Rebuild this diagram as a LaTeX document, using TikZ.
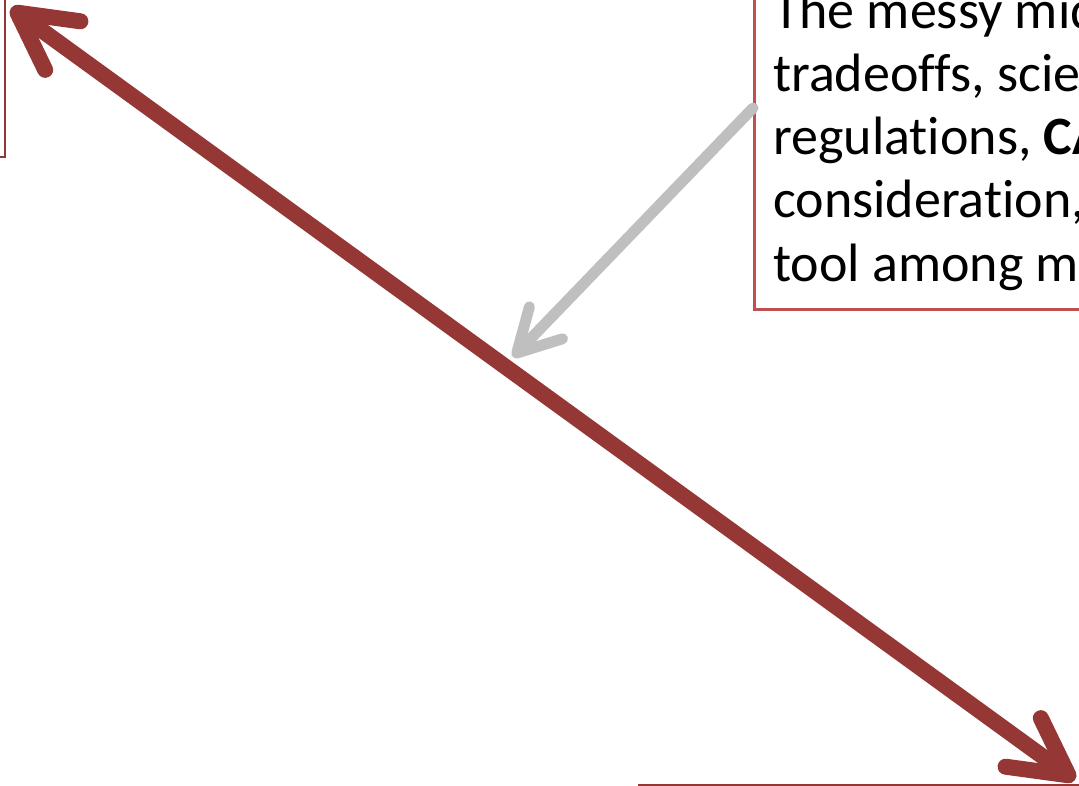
\documentclass[tikz,border=0pt]{standalone}
\usepackage{fontspec}
\setmainfont[Ligatures=NoCommon]{Carlito}
\usetikzlibrary{arrows.meta}
\definecolor{arrowred}{HTML}{953735}
\definecolor{boxred}{HTML}{C0504D}
\definecolor{pointgrey}{HTML}{BFBFBF}
\tikzset{
  bigarrow/.style={draw=arrowred, line width=16pt, line cap=round,
    {Straight Barb[round, length=56pt, width=60pt]}-{Straight Barb[round, length=56pt, width=60pt]}},
  greyarrow/.style={draw=pointgrey, line width=11pt, line cap=round,
    -{Straight Barb[round, length=42pt, width=46pt]}},
  notebox/.style={draw=boxred, line width=3pt, rectangle, inner sep=0pt, anchor=south west},
  edgebox/.style={draw=arrowred, line width=2pt, rectangle, inner sep=0pt},
  notetext/.style={anchor=base west, inner sep=0pt, font=\fontsize{54}{63}\selectfont}
}
\begin{document}
\begin{tikzpicture}[x=1pt,y=-1pt]
\useasboundingbox (0,0) rectangle (1079,786);
\clip (0,0) rectangle (1079,786);
% partial boxes at the edges
\node[edgebox, minimum width=200pt, minimum height=300pt, anchor=south east] (leftbox) at (6,158) {};
\node[edgebox, minimum width=600pt, minimum height=300pt, anchor=north west] (bottombox) at (638,784) {};
% note box
\node[notebox, minimum width=600pt, minimum height=400pt] (note) at (753,311) {};
\node[notetext] (l1) at (773,29) {The messy middle};
\node[notetext] (l2) at (773,92) {tradeoffs, science,};
\node[notetext] (l3) at (773,155) {regulations, \textbf{CAP}};
\node[notetext] (l4) at (773,218) {consideration,};
\node[notetext] (l5) at (773,282) {tool among many};
% arrows
\coordinate (a1) at (11,8);
\coordinate (a2) at (1075,780);
\coordinate (g1) at (753,108);
\coordinate (g2) at (513,357);
\draw[bigarrow] (a1) -- (a2);
\draw[greyarrow] (g1) -- (g2);
\end{tikzpicture}
\end{document}
